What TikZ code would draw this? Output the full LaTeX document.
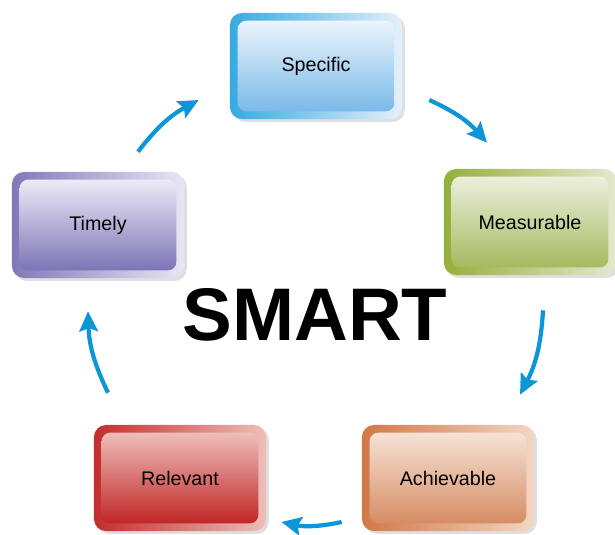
\documentclass[tikz,border=0pt]{standalone}
\usepackage{fontspec}
\setmainfont{Liberation Sans}
\usetikzlibrary{arrows.meta, positioning, shadows}

\definecolor{cycblue}{RGB}{10,150,215}
\definecolor{specdark}{RGB}{55,170,225}
\definecolor{speclight}{RGB}{228,240,251}
\definecolor{specbot}{RGB}{122,186,232}
\definecolor{measdark}{RGB}{150,175,60}
\definecolor{measlight}{RGB}{228,232,205}
\definecolor{measbot}{RGB}{165,186,95}
\definecolor{timedark}{RGB}{130,120,185}
\definecolor{timelight}{RGB}{232,230,244}
\definecolor{timebot}{RGB}{125,116,182}
\definecolor{reldark}{RGB}{195,45,45}
\definecolor{rellight}{RGB}{238,190,185}
\definecolor{relbot}{RGB}{192,38,38}
\definecolor{achdark}{RGB}{210,120,70}
\definecolor{achlight}{RGB}{242,214,196}
\definecolor{achbot}{RGB}{214,140,100}

\begin{document}
\begin{tikzpicture}[
    x=0.025cm, y=-0.025cm,
    frame/.style={rectangle, rounded corners=0.3cm, minimum width=4.3cm,
                  minimum height=2.65cm, inner sep=0pt,
                  drop shadow={opacity=0.25, shadow xshift=0.07cm, shadow yshift=-0.07cm}},
    face/.style={rectangle, rounded corners=0.22cm, minimum width=3.92cm,
                 minimum height=2.27cm, inner sep=0pt, align=center,
                 font=\fontsize{14}{16}\selectfont},
    cyc/.style={-{Stealth[length=0.5cm, width=0.46cm, inset=0.08cm]},
                line width=3pt, cycblue, bend left=12}
  ]
    \useasboundingbox (0,0) rectangle (615,534);

    % Frames
    \node[frame, left color=specdark, right color=speclight] (spec) at (316,66) {};
    \node[frame, left color=measdark, right color=measlight] (meas) at (530,222) {};
    \node[frame, left color=achdark, right color=achlight] (ach) at (448,478) {};
    \node[frame, left color=reldark, right color=rellight] (rel) at (180,478) {};
    \node[frame, left color=timedark, right color=timelight] (time) at (98,225) {};

    % Faces
    \node[face, top color=speclight!70!white, bottom color=specbot] (spec-in) at (spec) {Specific};
    \node[face, top color=measlight!70!white, bottom color=measbot] (meas-in) at (meas) {Measurable};
    \node[face, top color=achlight!70!white, bottom color=achbot] (ach-in) at (ach) {Achievable};
    \node[face, top color=rellight, bottom color=relbot] (rel-in) at (rel) {Relevant};
    \node[face, top color=timelight!80!white, bottom color=timebot] (time-in) at (time) {Timely};

    % Title
    \node[font=\fontsize{53}{53}\selectfont\bfseries, inner sep=0pt] (title) at (315,315) {SMART};

    % Cycle arrows
    \draw[cyc] ([shift={(40,-20)}]time.north) to ([shift={(-31,34)}]spec.west);
    \draw[cyc] ([shift={(27,34)}]spec.east) to ([shift={(-43,-26)}]meas.north);
    \draw[cyc] ([shift={(13,35)}]meas.south) to ([shift={(72,-30)}]ach.north);
    \draw[cyc] ([shift={(-20,44)}]ach.west) to ([shift={(15,44)}]rel.east);
    \draw[cyc] ([shift={(-72,-32)}]rel.north) to ([shift={(-10,33)}]time.south);
\end{tikzpicture}
\end{document}
